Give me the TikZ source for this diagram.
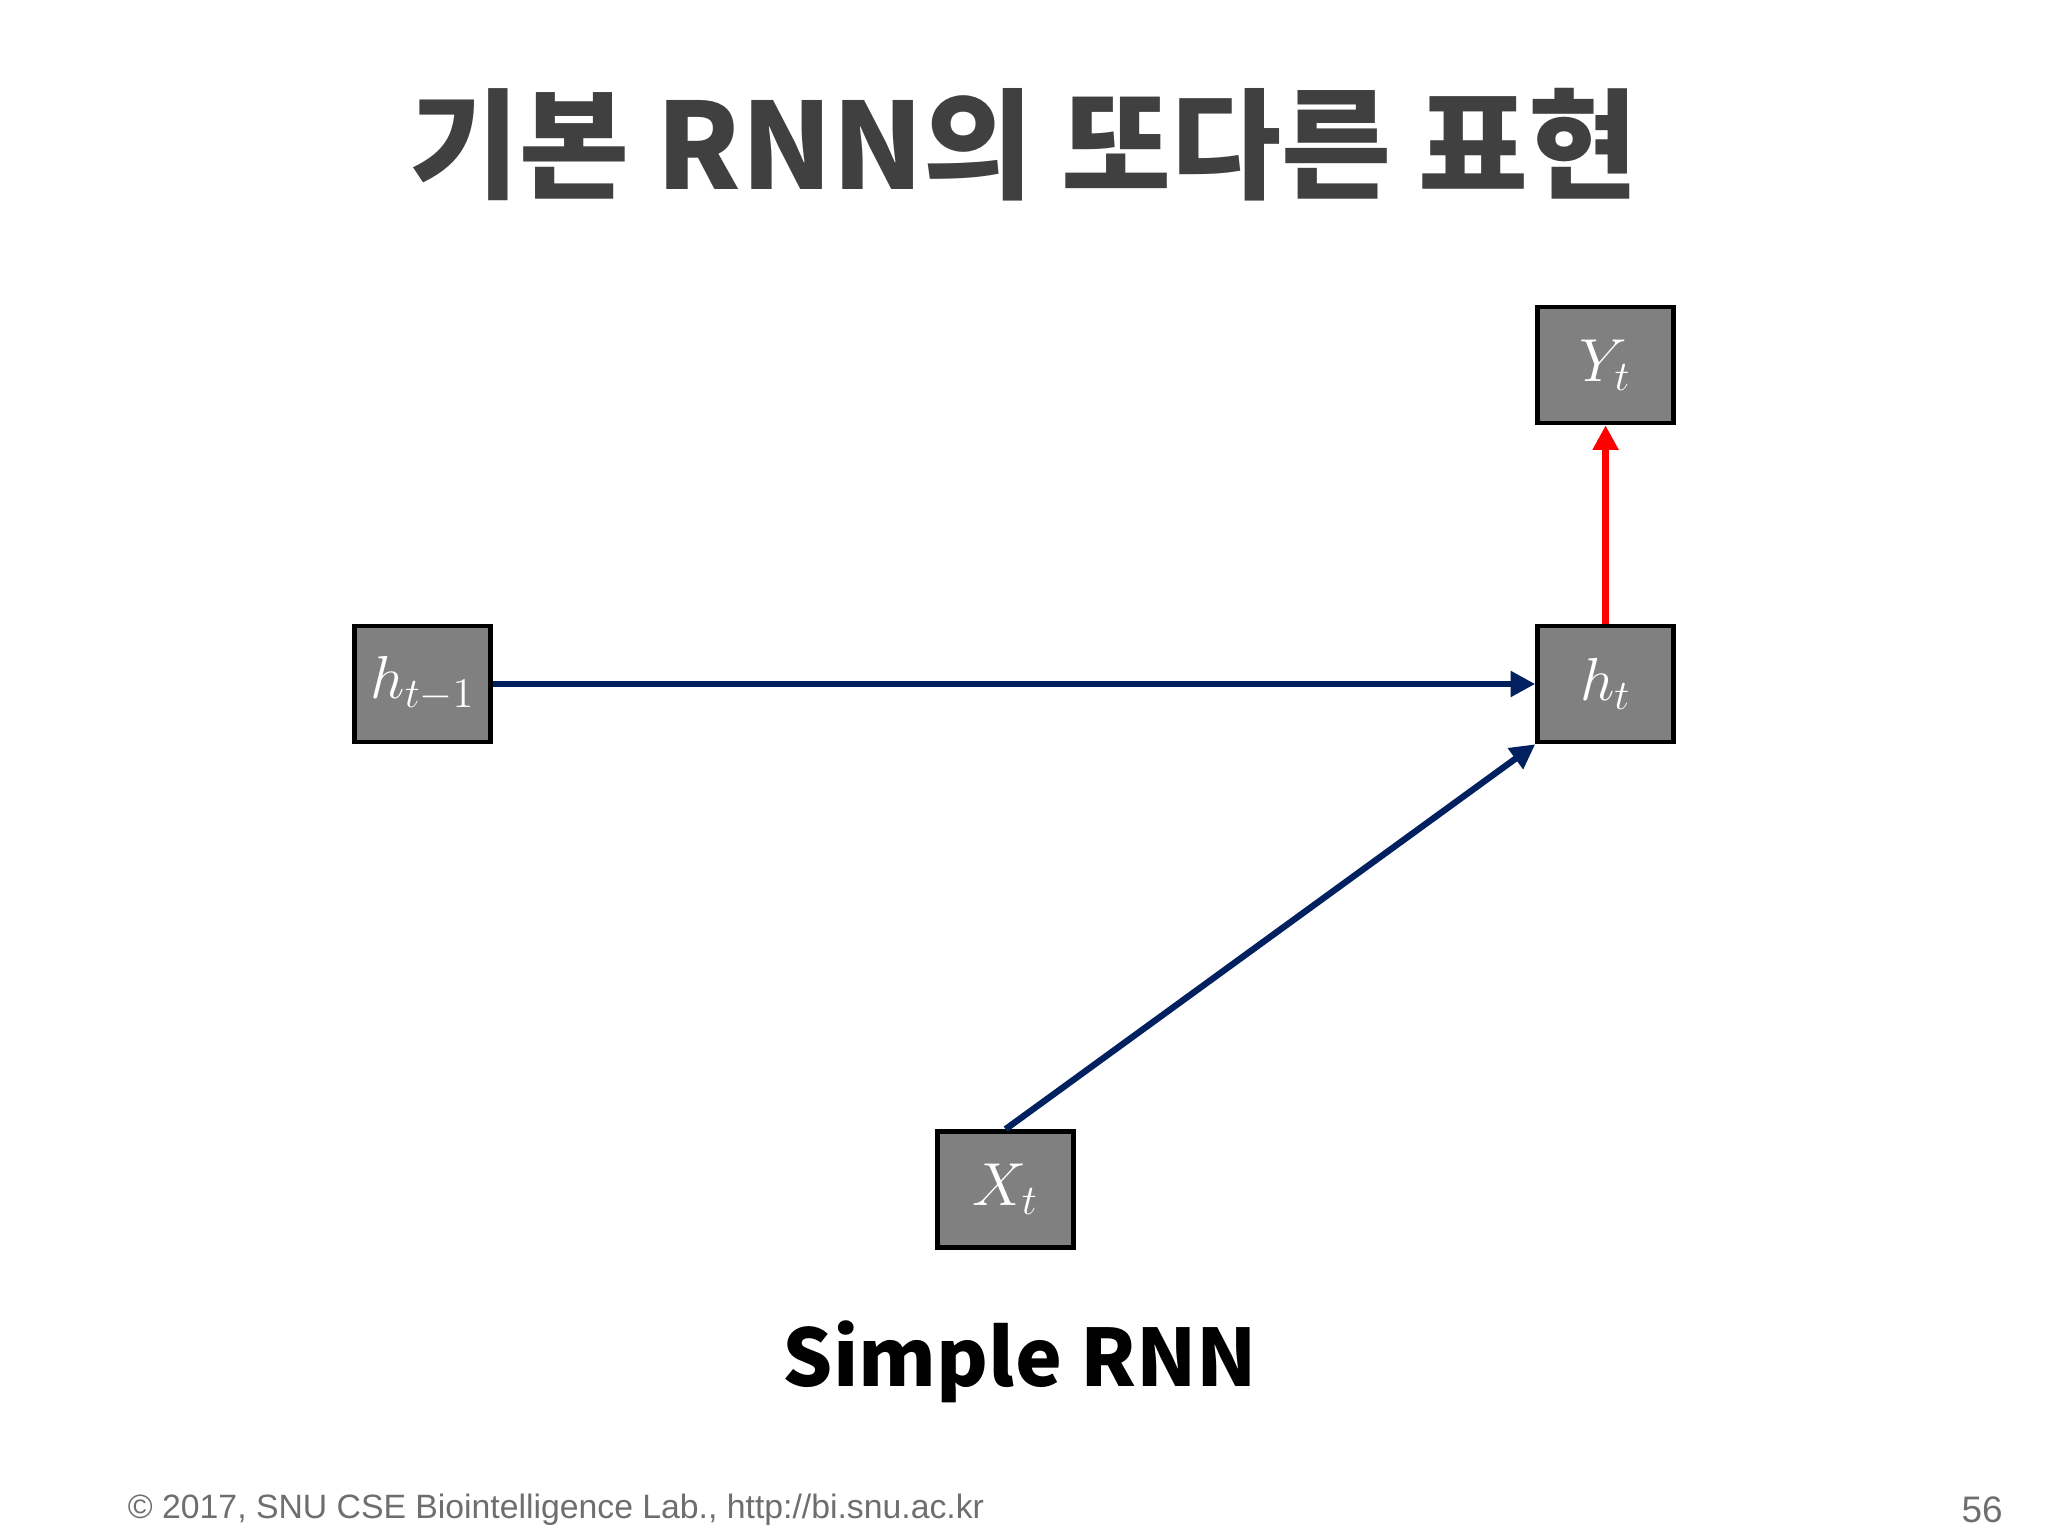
\documentclass[tikz,border=0pt]{standalone}
\usepackage{fontspec}
\setmainfont{Liberation Sans}
\newfontfamily\cjk{Noto Sans CJK KR}
\usetikzlibrary{arrows.meta}
\begin{document}
\begin{tikzpicture}[x=0.013128cm,y=-0.013128cm,
  box/.style={draw=black,line width=1.3pt,fill=black!50,minimum width=1.36cm,minimum height=1.16cm,inner sep=0pt,text=white,font=\fontsize{18}{20}\selectfont},
  conn/.style={line width=1.8pt,draw={rgb,255:red,0;green,32;blue,96},-{Triangle[length=7pt,width=7pt]}},
  redc/.style={line width=1.8pt,draw=red,-{Triangle[length=7pt,width=7pt]}}]
\useasboundingbox (0,0) rectangle (1560,1170);
\node (title) at (780,110) {\cjk\bfseries\fontsize{34}{40}\selectfont\color[HTML]{404040}기본 RNN의 또다른 표현};
\node[box] (hp) at (322,521) {$h_{t-1}$};
\node[box] (ht) at (1223,521) {$h_t$};
\node[box] (yt) at (1223,278) {$Y_t$};
\node[box] (xt) at (766,906) {$X_t$};
\draw[conn] (hp.east) -- (ht.west);
\draw[conn] (xt.north) -- (ht.south west);
\draw[redc] (ht.north) -- (yt.south);
\node (simple) at (777,1037) {\cjk\bfseries\fontsize{22.5}{26}\selectfont Simple RNN};
\node[anchor=west,text={rgb,255:red,110;green,110;blue,110}] (foot) at (88,1150) {\fontsize{9.6}{12}\selectfont\textcopyright\ 2017, SNU CSE Biointelligence Lab., http://bi.snu.ac.kr};
\node[anchor=east,text={rgb,255:red,110;green,110;blue,110}] (pg) at (1535,1150) {\fontsize{10.5}{12}\selectfont 56};
\end{tikzpicture}
\end{document}
